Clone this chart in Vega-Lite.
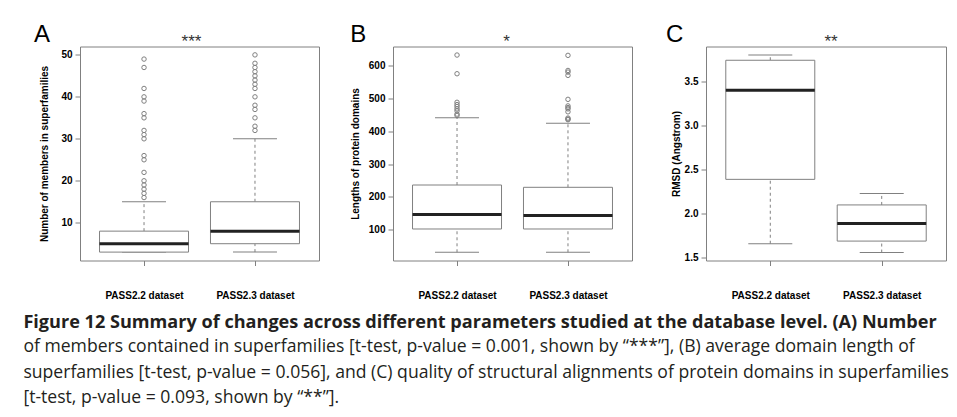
{
  "$schema": "https://vega.github.io/schema/vega-lite/v6.json",
  "background": "white",
  "padding": {"left": 23, "top": 22.5, "right": 0, "bottom": 0},
  "config": {
    "font": "Liberation Sans",
    "view": {"stroke": "#808080", "strokeWidth": 1},
    "concat": {"spacing": 74},
    "axis": {"labelFont": "Liberation Sans", "titleFont": "Liberation Sans", "labelColor": "#000", "titleColor": "#000", "tickColor": "#808080", "domain": false, "grid": false},
    "axisX": {"labelFontWeight": "bold", "labelFontSize": 10, "labelPadding": 25, "tickSize": 5, "labelAngle": 0, "title": null},
    "axisY": {"labelFontWeight": "bold", "labelFontSize": 10, "labelPadding": 3, "tickSize": 5, "titleFontWeight": "bold", "titleFontSize": 10, "titlePadding": 8},
    "title": {"font": "Liberation Sans", "color": "#000"}
  },
  "title": {
    "text": "Figure 12 Summary of changes across different parameters studied at the database level. (A) Number",
    "subtitle": [
      "of members contained in superfamilies [t-test, p-value = 0.001, shown by “***”], (B) average domain length of",
      "superfamilies [t-test, p-value = 0.056], and (C) quality of structural alignments of protein domains in superfamilies",
      "[t-test, p-value = 0.093, shown by “**”]."
    ],
    "orient": "bottom",
    "anchor": "start",
    "frame": "bounds",
    "font": "Open Sans",
    "fontSize": 18.1,
    "fontWeight": "bold",
    "color": "#231f20",
    "subtitleFont": "Open Sans",
    "subtitleFontSize": 17.6,
    "subtitleFontWeight": "normal",
    "subtitleColor": "#231f20",
    "subtitlePadding": 6,
    "subtitleLineHeight": 25.7,
    "offset": 13,
    "dx": -10
  },
  "datasets": {
    "stats": [
      {"panel": "A", "group": "PASS2.2 dataset", "lo": 3, "q1": 3, "med": 5, "q3": 8, "hi": 15},
      {"panel": "A", "group": "PASS2.3 dataset", "lo": 3, "q1": 5, "med": 8, "q3": 15, "hi": 30},
      {"panel": "B", "group": "PASS2.2 dataset", "lo": 31, "q1": 102, "med": 146, "q3": 236, "hi": 441},
      {"panel": "B", "group": "PASS2.3 dataset", "lo": 31, "q1": 102, "med": 143, "q3": 229, "hi": 424},
      {"panel": "C", "group": "PASS2.2 dataset", "lo": 1.66, "q1": 2.39, "med": 3.4, "q3": 3.74, "hi": 3.8},
      {"panel": "C", "group": "PASS2.3 dataset", "lo": 1.56, "q1": 1.69, "med": 1.89, "q3": 2.1, "hi": 2.23}
    ],
    "outliers": [
      {"panel": "A", "group": "PASS2.2 dataset", "value": 16},
      {"panel": "A", "group": "PASS2.2 dataset", "value": 17},
      {"panel": "A", "group": "PASS2.2 dataset", "value": 18},
      {"panel": "A", "group": "PASS2.2 dataset", "value": 19},
      {"panel": "A", "group": "PASS2.2 dataset", "value": 20},
      {"panel": "A", "group": "PASS2.2 dataset", "value": 22},
      {"panel": "A", "group": "PASS2.2 dataset", "value": 25},
      {"panel": "A", "group": "PASS2.2 dataset", "value": 26},
      {"panel": "A", "group": "PASS2.2 dataset", "value": 30},
      {"panel": "A", "group": "PASS2.2 dataset", "value": 31},
      {"panel": "A", "group": "PASS2.2 dataset", "value": 32},
      {"panel": "A", "group": "PASS2.2 dataset", "value": 35},
      {"panel": "A", "group": "PASS2.2 dataset", "value": 36},
      {"panel": "A", "group": "PASS2.2 dataset", "value": 39},
      {"panel": "A", "group": "PASS2.2 dataset", "value": 40},
      {"panel": "A", "group": "PASS2.2 dataset", "value": 42},
      {"panel": "A", "group": "PASS2.2 dataset", "value": 47},
      {"panel": "A", "group": "PASS2.2 dataset", "value": 49},
      {"panel": "A", "group": "PASS2.3 dataset", "value": 32},
      {"panel": "A", "group": "PASS2.3 dataset", "value": 33},
      {"panel": "A", "group": "PASS2.3 dataset", "value": 35},
      {"panel": "A", "group": "PASS2.3 dataset", "value": 37},
      {"panel": "A", "group": "PASS2.3 dataset", "value": 38},
      {"panel": "A", "group": "PASS2.3 dataset", "value": 40},
      {"panel": "A", "group": "PASS2.3 dataset", "value": 42},
      {"panel": "A", "group": "PASS2.3 dataset", "value": 43},
      {"panel": "A", "group": "PASS2.3 dataset", "value": 44},
      {"panel": "A", "group": "PASS2.3 dataset", "value": 45},
      {"panel": "A", "group": "PASS2.3 dataset", "value": 46},
      {"panel": "A", "group": "PASS2.3 dataset", "value": 47},
      {"panel": "A", "group": "PASS2.3 dataset", "value": 48},
      {"panel": "A", "group": "PASS2.3 dataset", "value": 50},
      {"panel": "B", "group": "PASS2.2 dataset", "value": 448},
      {"panel": "B", "group": "PASS2.2 dataset", "value": 452},
      {"panel": "B", "group": "PASS2.2 dataset", "value": 462},
      {"panel": "B", "group": "PASS2.2 dataset", "value": 468},
      {"panel": "B", "group": "PASS2.2 dataset", "value": 475},
      {"panel": "B", "group": "PASS2.2 dataset", "value": 481},
      {"panel": "B", "group": "PASS2.2 dataset", "value": 488},
      {"panel": "B", "group": "PASS2.2 dataset", "value": 575},
      {"panel": "B", "group": "PASS2.2 dataset", "value": 632},
      {"panel": "B", "group": "PASS2.3 dataset", "value": 435},
      {"panel": "B", "group": "PASS2.3 dataset", "value": 437},
      {"panel": "B", "group": "PASS2.3 dataset", "value": 440},
      {"panel": "B", "group": "PASS2.3 dataset", "value": 459},
      {"panel": "B", "group": "PASS2.3 dataset", "value": 468},
      {"panel": "B", "group": "PASS2.3 dataset", "value": 472},
      {"panel": "B", "group": "PASS2.3 dataset", "value": 477},
      {"panel": "B", "group": "PASS2.3 dataset", "value": 497},
      {"panel": "B", "group": "PASS2.3 dataset", "value": 570},
      {"panel": "B", "group": "PASS2.3 dataset", "value": 580},
      {"panel": "B", "group": "PASS2.3 dataset", "value": 585},
      {"panel": "B", "group": "PASS2.3 dataset", "value": 631}
    ],
    "stars": [
      {"panel": "A", "label": "***"},
      {"panel": "B", "label": "*"},
      {"panel": "C", "label": "**"}
    ]
  },
  "bounds": "flush",
  "hconcat": [
    {
      "width": 239, "height": 214,
      "title": {"text": "A", "anchor": "start", "frame": "bounds", "fontSize": 24, "fontWeight": "normal", "dx": -6, "offset": 2, "dy": 16},
      "layer": [
        {"data": {"name": "stats"}, "transform": [{"filter": "datum.panel === 'A'"}],
         "mark": {"type": "rule", "stroke": "#808080", "strokeDash": [3, 3]},
         "encoding": {
           "x": {"field": "group", "type": "nominal", "scale": {"type": "point", "padding": 0.577, "domain": ["PASS2.2 dataset", "PASS2.3 dataset"]}, "axis": {"title": null}},
           "y": {"field": "lo", "type": "quantitative", "scale": {"domain": [1.0, 52.0], "nice": false, "zero": false}, "axis": {"title": "Number of members in superfamilies", "values": [10, 20, 30, 40, 50], "titlePadding": 11}},
           "y2": {"field": "q1"}}},
        {"data": {"name": "stats"}, "transform": [{"filter": "datum.panel === 'A'"}],
         "mark": {"type": "rule", "stroke": "#808080", "strokeDash": [3, 3]},
         "encoding": {
           "x": {"field": "group", "type": "nominal", "scale": {"type": "point", "padding": 0.577, "domain": ["PASS2.2 dataset", "PASS2.3 dataset"]}, "axis": {"title": null}},
           "y": {"field": "q3", "type": "quantitative", "scale": {"domain": [1.0, 52.0], "nice": false, "zero": false}, "axis": {"title": "Number of members in superfamilies", "values": [10, 20, 30, 40, 50], "titlePadding": 11}},
           "y2": {"field": "hi"}}},
        {"data": {"name": "stats"}, "transform": [{"filter": "datum.panel === 'A'"}],
         "mark": {"type": "tick", "size": 44, "thickness": 1, "color": "#808080", "opacity": 1},
         "encoding": {
           "x": {"field": "group", "type": "nominal", "scale": {"type": "point", "padding": 0.577, "domain": ["PASS2.2 dataset", "PASS2.3 dataset"]}, "axis": {"title": null}},
           "y": {"field": "lo", "type": "quantitative", "scale": {"domain": [1.0, 52.0], "nice": false, "zero": false}, "axis": {"title": "Number of members in superfamilies", "values": [10, 20, 30, 40, 50], "titlePadding": 11}}}},
        {"data": {"name": "stats"}, "transform": [{"filter": "datum.panel === 'A'"}],
         "mark": {"type": "tick", "size": 44, "thickness": 1, "color": "#808080", "opacity": 1},
         "encoding": {
           "x": {"field": "group", "type": "nominal", "scale": {"type": "point", "padding": 0.577, "domain": ["PASS2.2 dataset", "PASS2.3 dataset"]}, "axis": {"title": null}},
           "y": {"field": "hi", "type": "quantitative", "scale": {"domain": [1.0, 52.0], "nice": false, "zero": false}, "axis": {"title": "Number of members in superfamilies", "values": [10, 20, 30, 40, 50], "titlePadding": 11}}}},
        {"data": {"name": "stats"}, "transform": [{"filter": "datum.panel === 'A'"}],
         "mark": {"type": "bar", "width": 89, "fill": "white", "stroke": "#808080", "strokeWidth": 1},
         "encoding": {
           "x": {"field": "group", "type": "nominal", "scale": {"type": "point", "padding": 0.577, "domain": ["PASS2.2 dataset", "PASS2.3 dataset"]}, "axis": {"title": null}},
           "y": {"field": "q1", "type": "quantitative", "scale": {"domain": [1.0, 52.0], "nice": false, "zero": false}, "axis": {"title": "Number of members in superfamilies", "values": [10, 20, 30, 40, 50], "titlePadding": 11}},
           "y2": {"field": "q3"}}},
        {"data": {"name": "stats"}, "transform": [{"filter": "datum.panel === 'A'"}],
         "mark": {"type": "tick", "size": 89, "thickness": 3, "color": "#222", "opacity": 1},
         "encoding": {
           "x": {"field": "group", "type": "nominal", "scale": {"type": "point", "padding": 0.577, "domain": ["PASS2.2 dataset", "PASS2.3 dataset"]}, "axis": {"title": null}},
           "y": {"field": "med", "type": "quantitative", "scale": {"domain": [1.0, 52.0], "nice": false, "zero": false}, "axis": {"title": "Number of members in superfamilies", "values": [10, 20, 30, 40, 50], "titlePadding": 11}}}},
        {"data": {"name": "outliers"}, "transform": [{"filter": "datum.panel === 'A'"}],
         "mark": {"type": "point", "shape": "circle", "filled": false, "stroke": "#808080", "strokeWidth": 1, "size": 20, "opacity": 1},
         "encoding": {
           "x": {"field": "group", "type": "nominal", "scale": {"type": "point", "padding": 0.577, "domain": ["PASS2.2 dataset", "PASS2.3 dataset"]}, "axis": {"title": null}},
           "y": {"field": "value", "type": "quantitative", "scale": {"domain": [1.0, 52.0], "nice": false, "zero": false}, "axis": {"title": "Number of members in superfamilies", "values": [10, 20, 30, 40, 50], "titlePadding": 11}}}},
        {"data": {"name": "stars"}, "transform": [{"filter": "datum.panel === 'A'"}],
         "mark": {"type": "text", "fontSize": 17, "color": "#333", "baseline": "middle", "dx": -8},
         "encoding": {
           "y": {"datum": 53.07, "type": "quantitative", "scale": {"domain": [1.0, 52.0], "nice": false, "zero": false}, "axis": {"title": "Number of members in superfamilies", "values": [10, 20, 30, 40, 50], "titlePadding": 11}},
           "text": {"field": "label"}}}
      ]
    },
    {
      "width": 239, "height": 214,
      "title": {"text": "B", "anchor": "start", "frame": "bounds", "fontSize": 24, "fontWeight": "normal", "dx": 0, "offset": 2, "dy": 16},
      "layer": [
        {"data": {"name": "stats"}, "transform": [{"filter": "datum.panel === 'B'"}],
         "mark": {"type": "rule", "stroke": "#808080", "strokeDash": [3, 3]},
         "encoding": {
           "x": {"field": "group", "type": "nominal", "scale": {"type": "point", "padding": 0.577, "domain": ["PASS2.2 dataset", "PASS2.3 dataset"]}, "axis": {"title": null}},
           "y": {"field": "lo", "type": "quantitative", "scale": {"domain": [6, 658], "nice": false, "zero": false}, "axis": {"title": "Lengths of protein domains", "values": [100, 200, 300, 400, 500, 600], "titlePadding": 8}},
           "y2": {"field": "q1"}}},
        {"data": {"name": "stats"}, "transform": [{"filter": "datum.panel === 'B'"}],
         "mark": {"type": "rule", "stroke": "#808080", "strokeDash": [3, 3]},
         "encoding": {
           "x": {"field": "group", "type": "nominal", "scale": {"type": "point", "padding": 0.577, "domain": ["PASS2.2 dataset", "PASS2.3 dataset"]}, "axis": {"title": null}},
           "y": {"field": "q3", "type": "quantitative", "scale": {"domain": [6, 658], "nice": false, "zero": false}, "axis": {"title": "Lengths of protein domains", "values": [100, 200, 300, 400, 500, 600], "titlePadding": 8}},
           "y2": {"field": "hi"}}},
        {"data": {"name": "stats"}, "transform": [{"filter": "datum.panel === 'B'"}],
         "mark": {"type": "tick", "size": 44, "thickness": 1, "color": "#808080", "opacity": 1},
         "encoding": {
           "x": {"field": "group", "type": "nominal", "scale": {"type": "point", "padding": 0.577, "domain": ["PASS2.2 dataset", "PASS2.3 dataset"]}, "axis": {"title": null}},
           "y": {"field": "lo", "type": "quantitative", "scale": {"domain": [6, 658], "nice": false, "zero": false}, "axis": {"title": "Lengths of protein domains", "values": [100, 200, 300, 400, 500, 600], "titlePadding": 8}}}},
        {"data": {"name": "stats"}, "transform": [{"filter": "datum.panel === 'B'"}],
         "mark": {"type": "tick", "size": 44, "thickness": 1, "color": "#808080", "opacity": 1},
         "encoding": {
           "x": {"field": "group", "type": "nominal", "scale": {"type": "point", "padding": 0.577, "domain": ["PASS2.2 dataset", "PASS2.3 dataset"]}, "axis": {"title": null}},
           "y": {"field": "hi", "type": "quantitative", "scale": {"domain": [6, 658], "nice": false, "zero": false}, "axis": {"title": "Lengths of protein domains", "values": [100, 200, 300, 400, 500, 600], "titlePadding": 8}}}},
        {"data": {"name": "stats"}, "transform": [{"filter": "datum.panel === 'B'"}],
         "mark": {"type": "bar", "width": 89, "fill": "white", "stroke": "#808080", "strokeWidth": 1},
         "encoding": {
           "x": {"field": "group", "type": "nominal", "scale": {"type": "point", "padding": 0.577, "domain": ["PASS2.2 dataset", "PASS2.3 dataset"]}, "axis": {"title": null}},
           "y": {"field": "q1", "type": "quantitative", "scale": {"domain": [6, 658], "nice": false, "zero": false}, "axis": {"title": "Lengths of protein domains", "values": [100, 200, 300, 400, 500, 600], "titlePadding": 8}},
           "y2": {"field": "q3"}}},
        {"data": {"name": "stats"}, "transform": [{"filter": "datum.panel === 'B'"}],
         "mark": {"type": "tick", "size": 89, "thickness": 3, "color": "#222", "opacity": 1},
         "encoding": {
           "x": {"field": "group", "type": "nominal", "scale": {"type": "point", "padding": 0.577, "domain": ["PASS2.2 dataset", "PASS2.3 dataset"]}, "axis": {"title": null}},
           "y": {"field": "med", "type": "quantitative", "scale": {"domain": [6, 658], "nice": false, "zero": false}, "axis": {"title": "Lengths of protein domains", "values": [100, 200, 300, 400, 500, 600], "titlePadding": 8}}}},
        {"data": {"name": "outliers"}, "transform": [{"filter": "datum.panel === 'B'"}],
         "mark": {"type": "point", "shape": "circle", "filled": false, "stroke": "#808080", "strokeWidth": 1, "size": 20, "opacity": 1},
         "encoding": {
           "x": {"field": "group", "type": "nominal", "scale": {"type": "point", "padding": 0.577, "domain": ["PASS2.2 dataset", "PASS2.3 dataset"]}, "axis": {"title": null}},
           "y": {"field": "value", "type": "quantitative", "scale": {"domain": [6, 658], "nice": false, "zero": false}, "axis": {"title": "Lengths of protein domains", "values": [100, 200, 300, 400, 500, 600], "titlePadding": 8}}}},
        {"data": {"name": "stars"}, "transform": [{"filter": "datum.panel === 'B'"}],
         "mark": {"type": "text", "fontSize": 17, "color": "#333", "baseline": "middle", "dx": -6},
         "encoding": {
           "y": {"datum": 671.7, "type": "quantitative", "scale": {"domain": [6, 658], "nice": false, "zero": false}, "axis": {"title": "Lengths of protein domains", "values": [100, 200, 300, 400, 500, 600], "titlePadding": 8}},
           "text": {"field": "label"}}}
      ]
    },
    {
      "width": 240, "height": 214,
      "title": {"text": "C", "anchor": "start", "frame": "bounds", "fontSize": 24, "fontWeight": "normal", "dx": -5, "offset": 2, "dy": 16},
      "layer": [
        {"data": {"name": "stats"}, "transform": [{"filter": "datum.panel === 'C'"}],
         "mark": {"type": "rule", "stroke": "#808080", "strokeDash": [3, 3]},
         "encoding": {
           "x": {"field": "group", "type": "nominal", "scale": {"type": "point", "padding": 0.577, "domain": ["PASS2.2 dataset", "PASS2.3 dataset"]}, "axis": {"title": null}},
           "y": {"field": "lo", "type": "quantitative", "scale": {"domain": [1.47, 3.896], "nice": false, "zero": false}, "axis": {"title": "RMSD (Angstrom)", "values": [1.5, 2.0, 2.5, 3.0, 3.5], "format": ".1f", "titlePadding": 3}},
           "y2": {"field": "q1"}}},
        {"data": {"name": "stats"}, "transform": [{"filter": "datum.panel === 'C'"}],
         "mark": {"type": "rule", "stroke": "#808080", "strokeDash": [3, 3]},
         "encoding": {
           "x": {"field": "group", "type": "nominal", "scale": {"type": "point", "padding": 0.577, "domain": ["PASS2.2 dataset", "PASS2.3 dataset"]}, "axis": {"title": null}},
           "y": {"field": "q3", "type": "quantitative", "scale": {"domain": [1.47, 3.896], "nice": false, "zero": false}, "axis": {"title": "RMSD (Angstrom)", "values": [1.5, 2.0, 2.5, 3.0, 3.5], "format": ".1f", "titlePadding": 3}},
           "y2": {"field": "hi"}}},
        {"data": {"name": "stats"}, "transform": [{"filter": "datum.panel === 'C'"}],
         "mark": {"type": "tick", "size": 44, "thickness": 1, "color": "#808080", "opacity": 1},
         "encoding": {
           "x": {"field": "group", "type": "nominal", "scale": {"type": "point", "padding": 0.577, "domain": ["PASS2.2 dataset", "PASS2.3 dataset"]}, "axis": {"title": null}},
           "y": {"field": "lo", "type": "quantitative", "scale": {"domain": [1.47, 3.896], "nice": false, "zero": false}, "axis": {"title": "RMSD (Angstrom)", "values": [1.5, 2.0, 2.5, 3.0, 3.5], "format": ".1f", "titlePadding": 3}}}},
        {"data": {"name": "stats"}, "transform": [{"filter": "datum.panel === 'C'"}],
         "mark": {"type": "tick", "size": 44, "thickness": 1, "color": "#808080", "opacity": 1},
         "encoding": {
           "x": {"field": "group", "type": "nominal", "scale": {"type": "point", "padding": 0.577, "domain": ["PASS2.2 dataset", "PASS2.3 dataset"]}, "axis": {"title": null}},
           "y": {"field": "hi", "type": "quantitative", "scale": {"domain": [1.47, 3.896], "nice": false, "zero": false}, "axis": {"title": "RMSD (Angstrom)", "values": [1.5, 2.0, 2.5, 3.0, 3.5], "format": ".1f", "titlePadding": 3}}}},
        {"data": {"name": "stats"}, "transform": [{"filter": "datum.panel === 'C'"}],
         "mark": {"type": "bar", "width": 89, "fill": "white", "stroke": "#808080", "strokeWidth": 1},
         "encoding": {
           "x": {"field": "group", "type": "nominal", "scale": {"type": "point", "padding": 0.577, "domain": ["PASS2.2 dataset", "PASS2.3 dataset"]}, "axis": {"title": null}},
           "y": {"field": "q1", "type": "quantitative", "scale": {"domain": [1.47, 3.896], "nice": false, "zero": false}, "axis": {"title": "RMSD (Angstrom)", "values": [1.5, 2.0, 2.5, 3.0, 3.5], "format": ".1f", "titlePadding": 3}},
           "y2": {"field": "q3"}}},
        {"data": {"name": "stats"}, "transform": [{"filter": "datum.panel === 'C'"}],
         "mark": {"type": "tick", "size": 89, "thickness": 3, "color": "#222", "opacity": 1},
         "encoding": {
           "x": {"field": "group", "type": "nominal", "scale": {"type": "point", "padding": 0.577, "domain": ["PASS2.2 dataset", "PASS2.3 dataset"]}, "axis": {"title": null}},
           "y": {"field": "med", "type": "quantitative", "scale": {"domain": [1.47, 3.896], "nice": false, "zero": false}, "axis": {"title": "RMSD (Angstrom)", "values": [1.5, 2.0, 2.5, 3.0, 3.5], "format": ".1f", "titlePadding": 3}}}},
        {"data": {"name": "stars"}, "transform": [{"filter": "datum.panel === 'C'"}],
         "mark": {"type": "text", "fontSize": 17, "color": "#333", "baseline": "middle", "dx": 5},
         "encoding": {
           "y": {"datum": 3.947, "type": "quantitative", "scale": {"domain": [1.47, 3.896], "nice": false, "zero": false}, "axis": {"title": "RMSD (Angstrom)", "values": [1.5, 2.0, 2.5, 3.0, 3.5], "format": ".1f", "titlePadding": 3}},
           "text": {"field": "label"}}}
      ]
    }
  ]
}
